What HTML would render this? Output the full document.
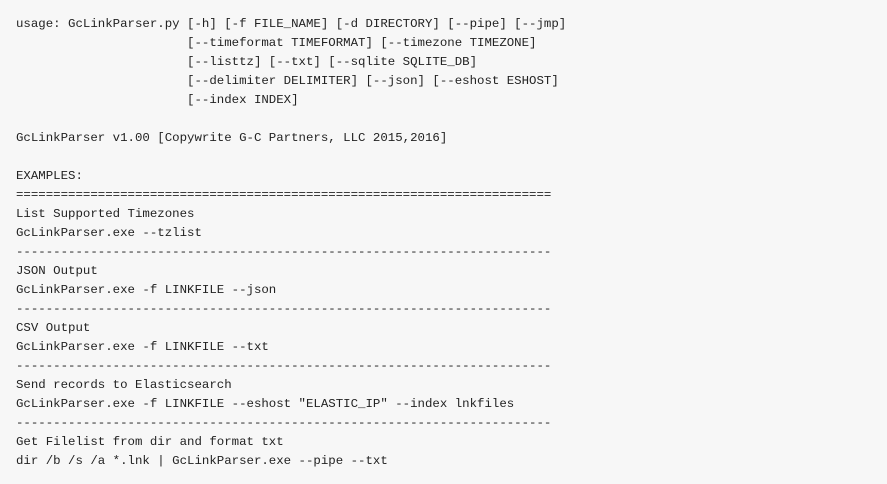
<!DOCTYPE html>
<html><head><style>
html,body{margin:0;padding:0;background:#f7f7f7;width:887px;height:484px;overflow:hidden}
pre{margin:0;position:absolute;left:16px;top:15px;font-family:"Liberation Mono",monospace;font-size:12.4px;line-height:19px;color:#222;white-space:pre}
</style></head><body>
<pre>usage: GcLinkParser.py [-h] [-f FILE_NAME] [-d DIRECTORY] [--pipe] [--jmp]
                       [--timeformat TIMEFORMAT] [--timezone TIMEZONE]
                       [--listtz] [--txt] [--sqlite SQLITE_DB]
                       [--delimiter DELIMITER] [--json] [--eshost ESHOST]
                       [--index INDEX]

GcLinkParser v1.00 [Copywrite G-C Partners, LLC 2015,2016]

EXAMPLES:
========================================================================
List Supported Timezones
GcLinkParser.exe --tzlist
------------------------------------------------------------------------
JSON Output
GcLinkParser.exe -f LINKFILE --json
------------------------------------------------------------------------
CSV Output
GcLinkParser.exe -f LINKFILE --txt
------------------------------------------------------------------------
Send records to Elasticsearch
GcLinkParser.exe -f LINKFILE --eshost "ELASTIC_IP" --index lnkfiles
------------------------------------------------------------------------
Get Filelist from dir and format txt
dir /b /s /a *.lnk | GcLinkParser.exe --pipe --txt</pre>
</body></html>
